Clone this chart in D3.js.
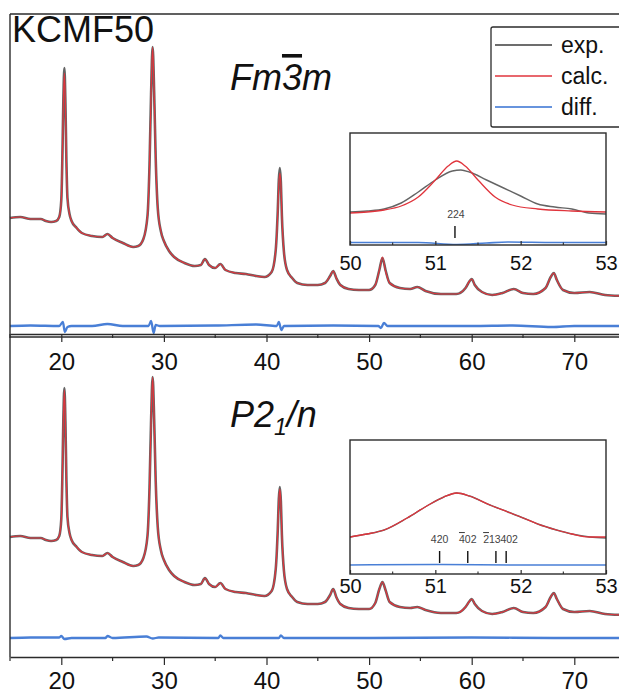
<!DOCTYPE html>
<html>
<head>
<meta charset="utf-8">
<script src="https://cdn.jsdelivr.net/npm/d3@7"></script>
<style>
body { margin: 0; background: #fff; }
svg { display: block; }
text { font-family: "Liberation Sans", Arial, sans-serif; }
</style>
</head>
<body>
<svg id="chart"></svg>
<script>
// ---- data (2theta, intensity a.u.) ----
let expTop = [[15,116],[16,117],[17,115],[18,115],[18.5,113],[19,112],[19.5,113],[19.8,117],[20,134],[20.1,174],[20.2,234],[20.3,266],[20.4,232],[20.5,172],[20.6,136],[20.8,120],[21,113],[21.5,106],[22,101],[23,98],[24,97],[24.5,100],[25,96],[26,91],[27,87],[27.5,88],[28,95],[28.4,118],[28.6,170],[28.75,240],[28.9,287],[29.05,242],[29.2,176],[29.4,126],[29.7,103],[30,93],[30.5,83],[31,77],[32,71],[33,68],[33.6,69],[34,75],[34.4,69],[35,66],[35.5,70],[36,64],[37,61],[38,60],[39,58],[39.8,57],[40.5,62],[40.9,84],[41.1,124],[41.2,154],[41.3,166],[41.4,152],[41.5,118],[41.7,82],[42,64],[42.5,56],[43,51],[44,49],[45,49],[45.7,51],[46.2,58],[46.5,63],[46.8,56],[47.2,49],[48,45],[49,44],[50,44],[50.6,49],[51,64],[51.3,76],[51.6,64],[52,51],[53,46],[54,45],[54.7,47],[55.5,43],[57,40],[58.5,40],[59.4,46],[59.8,53],[60,55],[60.3,49],[61,42],[62,39],[63,41],[64.1,45],[65,41],[66,40],[67.2,46],[67.7,57],[68,61],[68.3,54],[68.9,44],[70,41],[71.5,42],[73,39],[75,38]];
let calcTop = [[15,116],[16,117],[17,115],[18,115],[18.5,113],[19,112],[19.5,113],[19.8,117],[20,134],[20.1,174],[20.2,231],[20.3,261],[20.4,230],[20.5,172],[20.6,136],[20.8,120],[21,113],[21.5,106],[22,101],[23,98],[24,97],[24.5,100],[25,96],[26,91],[27,87],[27.5,88],[28,95],[28.4,118],[28.6,170],[28.75,240],[28.9,287],[29.05,242],[29.2,176],[29.4,126],[29.7,103],[30,93],[30.5,83],[31,77],[32,71],[33,68],[33.6,69],[34,75],[34.4,69],[35,66],[35.5,70],[36,64],[37,61],[38,60],[39,58],[39.8,57],[40.5,62],[40.9,84],[41.1,122],[41.2,150],[41.3,161],[41.4,150],[41.5,118],[41.7,82],[42,64],[42.5,56],[43,51],[44,49],[45,49],[45.7,51],[46.2,58],[46.5,63],[46.8,56],[47.2,49],[48,45],[49,44],[50,44],[50.6,49],[51,64],[51.3,77],[51.6,63],[52,51],[53,46],[54,45],[54.7,47],[55.5,43],[57,40],[58.5,40],[59.4,46],[59.8,53],[60,55],[60.3,49],[61,42],[62,39],[63,41],[64.1,45],[65,41],[66,40],[67.2,46],[67.7,57],[68,61],[68.3,54],[68.9,44],[70,41],[71.5,42],[73,39],[75,38]];
let diffTop = [[15,8],[17,8.5],[19.8,8],[20.15,12],[20.35,2],[20.6,7],[21,8],[23,8],[24.5,10],[26,8],[28.5,8],[28.75,13],[29,1],[29.2,9],[29.6,8],[35,8.5],[39,9.5],[41,8],[41.2,12],[41.45,4],[41.7,8],[46.5,8.5],[50.9,8],[51.15,6],[51.45,11],[51.8,8],[60,8],[64,8.5],[67.8,7],[70,8],[75,8]];

let expBot = [[15,120],[16,121],[17,119],[18,119],[18.5,117],[19,116],[19.5,117],[19.8,121],[20,138],[20.1,178],[20.2,238],[20.3,269],[20.4,236],[20.5,176],[20.6,140],[20.8,124],[21,117],[21.5,110],[22,105],[23,102],[24,101],[24.5,104],[25,100],[26,95],[27,91],[27.5,92],[28,99],[28.4,121],[28.6,170],[28.75,236],[28.9,280],[29.05,238],[29.2,176],[29.4,130],[29.7,107],[30,97],[30.5,87],[31,81],[32,75],[33,72],[33.6,73],[34,79],[34.4,73],[35,70],[35.5,74],[36,68],[37,65],[38,64],[39,62],[39.8,61],[40.5,66],[40.9,88],[41.1,128],[41.2,158],[41.3,170],[41.4,156],[41.5,122],[41.7,86],[42,68],[42.5,60],[43,55],[44,53],[45,53],[45.7,55],[46.2,62],[46.5,68],[46.8,60],[47.2,53],[48,49],[49,48],[50,48],[50.6,54],[51,68],[51.3,75],[51.6,67],[52,55],[53,50],[54,49],[54.7,50],[55.5,47],[57,44],[58.5,44],[59.4,50],[59.8,56],[60,58],[60.3,53],[61,46],[62,43],[63,45],[64.1,49],[65,45],[66,44],[67.2,50],[67.7,60],[68,64],[68.3,58],[68.9,48],[70,45],[71.5,46],[73,43],[75,42]];
let calcBot = [[15,120],[16,121],[17,119],[18,119],[18.5,117],[19,116],[19.5,117],[19.8,121],[20,138],[20.1,178],[20.2,237],[20.3,267],[20.4,235],[20.5,176],[20.6,140],[20.8,124],[21,117],[21.5,110],[22,105],[23,102],[24,101],[24.5,104],[25,100],[26,95],[27,91],[27.5,92],[28,99],[28.4,121],[28.6,170],[28.75,236],[28.9,280],[29.05,238],[29.2,176],[29.4,130],[29.7,107],[30,97],[30.5,87],[31,81],[32,75],[33,72],[33.6,73],[34,79],[34.4,73],[35,70],[35.5,74],[36,68],[37,65],[38,64],[39,62],[39.8,61],[40.5,66],[40.9,88],[41.1,127],[41.2,156],[41.3,168],[41.4,155],[41.5,122],[41.7,86],[42,68],[42.5,60],[43,55],[44,53],[45,53],[45.7,55],[46.2,62],[46.5,68],[46.8,60],[47.2,53],[48,49],[49,48],[50,48],[50.6,54],[51,68],[51.3,75],[51.6,67],[52,55],[53,50],[54,49],[54.7,50],[55.5,47],[57,44],[58.5,44],[59.4,50],[59.8,56],[60,58],[60.3,53],[61,46],[62,43],[63,45],[64.1,49],[65,45],[66,44],[67.2,50],[67.7,60],[68,64],[68.3,58],[68.9,48],[70,45],[71.5,46],[73,43],[75,42]];
let diffBot = [[15,19],[17,19.5],[19.8,19.5],[20,21],[20.3,18],[21,19],[24.3,19],[24.5,21],[25,19],[28.3,20.5],[28.9,18.5],[29.5,19.5],[35.3,19],[35.5,21.5],[35.8,19],[41.2,19],[41.4,21.5],[41.7,19],[50,19],[60,19.5],[68,19],[75,19]];

// insets, 50-53 deg
let inset1Exp = [[50,33],[50.2,34],[50.4,36],[50.6,42],[50.8,53],[51,65],[51.2,74],[51.3,75],[51.4,73],[51.6,65],[51.8,57],[52,49],[52.2,41],[52.4,38],[52.6,36],[52.8,32],[53,31]];
let inset1Calc = [[50,32],[50.2,33],[50.4,35],[50.6,39],[50.8,48],[51,65],[51.15,79],[51.25,84],[51.35,79],[51.5,65],[51.7,48],[51.9,40],[52.2,36],[52.6,34],[53,33]];
let inset1Diff = [[50,2.5],[50.8,2.5],[51.25,0.5],[51.6,2],[51.85,3],[52.4,2.5],[53,2.5]];
let inset1Hkl = ["224"];
let inset1Pos = [51.23];

let inset2Exp = [[50,37],[50.2,40],[50.4,44],[50.67,56],[50.9,68],[51.1,77],[51.25,81],[51.4,78],[51.64,69],[51.85,62],[52.03,56],[52.2,50],[52.42,44],[52.6,40],[52.81,37],[53,36]];
let inset2Calc = [[50,37],[50.2,40],[50.4,44],[50.67,56],[50.9,68],[51.1,77],[51.25,81],[51.4,78],[51.64,69],[51.85,62],[52.03,56],[52.2,50],[52.42,44],[52.6,40],[52.81,37],[53,37]];
let inset2Diff = [[50,9],[51,9.5],[52,9],[53,9]];
let inset2Hkl = ["420", "-402", "-213", "402"];
let inset2Pos = [51.05, 51.38, 51.71, 51.83];

let mainTicks = [20, 30, 40, 50, 60, 70];
let mainMinor = [15, 25, 35, 45, 55, 65, 75];
let insetTicks = [50, 51, 52, 53];
let insetMinor = [50.5, 51.5, 52.5];
let legendNames = ["exp.", "calc.", "diff."];

// ---- drawing ----
let width = 619, height = 695;
let colExp = "#3d3d3d", colCalc = "#e0343c", colDiff = "#3571d2", axisCol = "#2b2b2b";

let svg = d3.select("#chart").attr("width", width).attr("height", height);

let x = d3.scaleLinear().domain([15, 75]).range([10, 625.6]);
let yTop = d3.scaleLinear().domain([0, 320]).range([334, 14]);
let yBot = d3.scaleLinear().domain([0, 320]).range([657, 337]);

const lineFor = (xs, ys) => d3.line()
  .x(d => xs(d[0]))
  .y(d => ys(d[1]))
  .curve(d3.curveMonotoneX);

const drawCurves = (g, xs, ys, exp, calc, diff, thick) => {
  let ln = lineFor(xs, ys);
  g.append("path").datum(diff).attr("d", ln)
    .attr("fill", "none").attr("stroke", colDiff)
    .attr("stroke-width", thick ? 2.3 : 1.6).attr("stroke-opacity", 0.9);
  g.append("path").datum(exp).attr("d", ln)
    .attr("fill", "none").attr("stroke", colExp)
    .attr("stroke-width", thick ? 2.6 : 1.4).attr("stroke-opacity", 0.8)
    .attr("stroke-linejoin", "round");
  g.append("path").datum(calc).attr("d", ln)
    .attr("fill", "none").attr("stroke", colCalc)
    .attr("stroke-width", thick ? 1.2 : 1.3);
};

drawCurves(svg.append("g"), x, yTop, expTop, calcTop, diffTop, true);
drawCurves(svg.append("g"), x, yBot, expBot, calcBot, diffBot, true);

// frame lines
let frame = svg.append("g").attr("stroke", axisCol).attr("stroke-width", 1.4);
frame.append("line").attr("x1", 10).attr("x2", width).attr("y1", 14).attr("y2", 14);
frame.append("line").attr("x1", 10).attr("x2", 10).attr("y1", 14).attr("y2", 657);
frame.append("line").attr("x1", 10).attr("x2", width).attr("y1", 337).attr("y2", 337);

// main x axes
const mainAxis = (yPos, pad) => {
  let g = svg.append("g").attr("transform", "translate(0," + yPos + ")")
    .call(d3.axisBottom(x).tickValues(mainTicks).tickSize(8).tickPadding(pad).tickSizeOuter(0));
  g.select(".domain").attr("stroke", axisCol).attr("stroke-width", 1.4);
  g.selectAll(".tick line").attr("stroke", axisCol).attr("stroke-width", 1.2);
  g.selectAll(".tick text").attr("font-size", 24).attr("fill", "#111")
    .attr("font-family", "'Liberation Sans', Arial, sans-serif");
  g.selectAll(".minor").data(mainMinor).enter().append("line")
    .attr("x1", d => x(d)).attr("x2", d => x(d))
    .attr("y1", 0).attr("y2", 4)
    .attr("stroke", axisCol).attr("stroke-width", 1.2);
};
mainAxis(334, 11);
mainAxis(657, 7);

// titles
svg.append("text").attr("x", 12).attr("y", 42)
  .attr("font-size", 36).attr("fill", "#111").text("KCMF50");

let t1 = svg.append("text").attr("x", 230).attr("y", 90)
  .attr("font-size", 36).attr("font-style", "italic").attr("fill", "#111");
t1.append("tspan").text("Fm");
t1.append("tspan").style("text-decoration", "overline").text("3");
t1.append("tspan").text("m");

let t2 = svg.append("text").attr("x", 230).attr("y", 427)
  .attr("font-size", 36).attr("font-style", "italic").attr("fill", "#111");
t2.append("tspan").text("P2");
t2.append("tspan").attr("font-size", 23).attr("dy", 8).text("1");
t2.append("tspan").attr("dy", -8).text("/n");

// legend
let legend = svg.append("g");
legend.append("rect").attr("x", 491).attr("y", 27).attr("width", 140).attr("height", 100)
  .attr("rx", 2).attr("fill", "#fff").attr("stroke", axisCol).attr("stroke-width", 1.3);
let legendColor = d3.scaleOrdinal().domain(legendNames).range([colExp, colCalc, colDiff]);
let legendY = d3.scalePoint().domain(legendNames).range([45, 107]);
let rows = legend.selectAll(".row").data(legendNames).enter().append("g")
  .attr("transform", d => "translate(0," + legendY(d) + ")");
rows.append("line").attr("x1", 495).attr("x2", 552).attr("y1", 0).attr("y2", 0)
  .attr("stroke", d => legendColor(d)).attr("stroke-width", 1.3);
rows.append("text").attr("x", 561).attr("y", 8).attr("font-size", 23).attr("fill", "#111")
  .text(d => d);

// insets
const hklLabel = (sel, s) => {
  if (s[0] === "-") {
    sel.append("tspan").style("text-decoration", "overline").text(s[1]);
    sel.append("tspan").text(s.slice(2));
  } else {
    sel.append("tspan").text(s);
  }
};

const drawInset = (box, exp, calc, diff, hkl, pos, hklY, labelBase, dxs) => {
  let xi = d3.scaleLinear().domain([50, 53]).range([box.x, box.x + box.w]);
  let yi = d3.scaleLinear().domain([0, box.h]).range([box.y + box.h, box.y]);
  let g = svg.append("g");
  g.append("rect").attr("x", box.x).attr("y", box.y).attr("width", box.w).attr("height", box.h)
    .attr("fill", "#fff");
  let clipId = "clip" + box.y;
  g.append("clipPath").attr("id", clipId).append("rect")
    .attr("x", box.x).attr("y", box.y).attr("width", box.w).attr("height", box.h);
  drawCurves(g.append("g").attr("clip-path", "url(#" + clipId + ")"), xi, yi, exp, calc, diff, false);

  // reflection markers
  g.selectAll(".mark").data(pos).enter().append("line")
    .attr("x1", d => xi(d)).attr("x2", d => xi(d))
    .attr("y1", hklY + 4).attr("y2", hklY + 16)
    .attr("stroke", "#111").attr("stroke-width", 1.4);
  g.selectAll(".hkl").data(hkl).enter().append("text")
    .attr("x", (d, i) => xi(pos[i]) + dxs[i]).attr("y", hklY - 4)
    .attr("text-anchor", "middle").attr("font-size", 10.5).attr("fill", "#444")
    .each(function (d) { hklLabel(d3.select(this), d); });

  g.append("rect").attr("x", box.x).attr("y", box.y).attr("width", box.w).attr("height", box.h)
    .attr("fill", "none").attr("stroke", axisCol).attr("stroke-width", 1.4);

  let ax = g.append("g").attr("transform", "translate(0," + (box.y + box.h) + ")")
    .call(d3.axisBottom(xi).tickValues(insetTicks).tickFormat(d3.format("d"))
      .tickSize(-4).tickPadding(labelBase - 14));
  ax.select(".domain").remove();
  ax.selectAll(".tick line").attr("stroke", axisCol).attr("stroke-width", 1.2);
  ax.selectAll(".tick text").attr("font-size", 20).attr("fill", "#111")
    .attr("font-family", "'Liberation Sans', Arial, sans-serif");
  ax.selectAll(".minor").data(insetMinor).enter().append("line")
    .attr("x1", d => xi(d)).attr("x2", d => xi(d))
    .attr("y1", 0).attr("y2", -2.5)
    .attr("stroke", axisCol).attr("stroke-width", 1.1);
};

drawInset({x: 350, y: 133, w: 256, h: 112}, inset1Exp, inset1Calc, inset1Diff,
  inset1Hkl, inset1Pos, 222, 25, [1]);
drawInset({x: 350, y: 440, w: 256, h: 134}, inset2Exp, inset2Calc, inset2Diff,
  inset2Hkl, inset2Pos, 547, 19, [0, 0, -4, 3]);
</script>
</body>
</html>
